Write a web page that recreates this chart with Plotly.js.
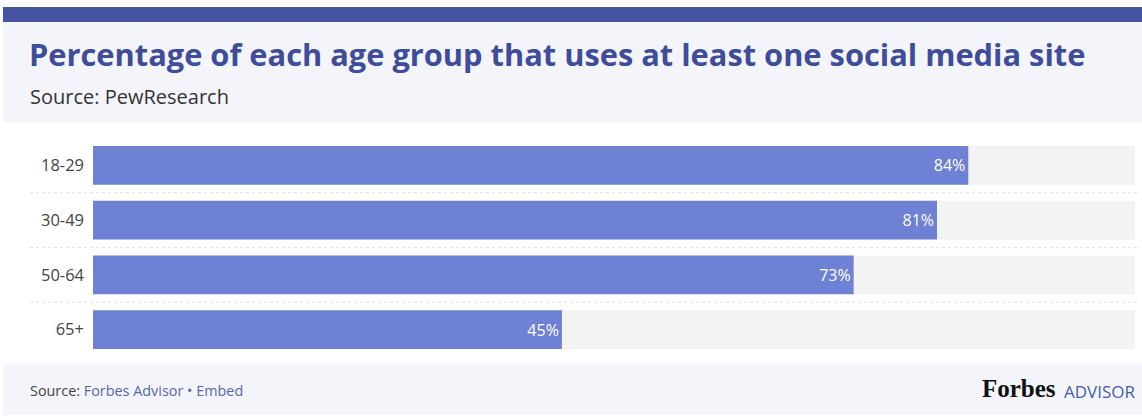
<!DOCTYPE html>
<html>
<head>
<meta charset="utf-8">
<script src="https://cdn.plot.ly/plotly-3.0.1.min.js"></script>
<style>html,body{margin:0;padding:0;background:#fff;}#chart{width:1142px;height:416px;}</style>
</head>
<body>
<div id="chart"></div>
<script>
const ageGroups = ["18-29", "30-49", "50-64", "65+"];
const shareUsingSocial = [84, 81, 73, 45];
const valueLabels = ["84%", "81%", "73%", "45%"];
const trackMax = [100, 100, 100, 100];
const separatorsAt = [0.5, 1.5, 2.5];

const W = 1142, H = 416;
const mL = 93, mR = 7.3, mT = 137.5, mB = 58.5;
const pw = W - mL - mR, ph = H - mT - mB;
const px = x => (x - mL) / pw;          // pixel -> paper x
const py = y => (H - mB - y) / ph;      // pixel -> paper y

const shapes = [
  {type:'rect', xref:'paper', yref:'paper', x0:px(3), x1:px(1142), y0:py(122), y1:py(21), fillcolor:'#f3f5fa', line:{width:0}, layer:'below'},
  {type:'rect', xref:'paper', yref:'paper', x0:px(3), x1:px(1142), y0:py(21), y1:py(6), fillcolor:'#4454a0', line:{width:0}, layer:'below'},
  {type:'rect', xref:'paper', yref:'paper', x0:px(3), x1:px(1142), y0:py(416), y1:py(364), fillcolor:'#f3f5fa', line:{width:0}, layer:'below'}
];
separatorsAt.forEach(s => shapes.push({
  type:'line', xref:'paper', yref:'y', x0:px(30), x1:px(1140), y0:s, y1:s,
  line:{color:'#e0e0e0', width:1, dash:'dot'}, layer:'below'
}));

const traces = [
  {type:'bar', orientation:'h', y:ageGroups, x:trackMax, marker:{color:'#f3f3f3'}, hoverinfo:'skip', showlegend:false},
  {type:'bar', orientation:'h', y:ageGroups, x:shareUsingSocial, text:valueLabels,
   textposition:'inside', insidetextanchor:'end', textangle:0,
   textfont:{family:'Open Sans, sans-serif', size:16, color:'#ffffff'},
   marker:{color:'#6e81d4'}, hoverinfo:'skip', showlegend:false}
];

const layout = {
  width: W, height: H,
  margin:{l:mL, r:mR, t:mT, b:mB, pad:0},
  paper_bgcolor:'#ffffff', plot_bgcolor:'#ffffff',
  barmode:'overlay', bargap:0.29,
  title:{text:'Percentage of each age group that uses at least one social media site',
         xref:'container', yref:'container', x:29/W, xanchor:'left', y:1-55/H, yanchor:'middle',
         font:{family:'Open Sans, sans-serif', size:30.8, color:'#3f4c9c', weight:700}},
  xaxis:{range:[0,100], visible:false, fixedrange:true},
  yaxis:{type:'category', autorange:'reversed', showgrid:false, zeroline:false, showline:false,
         ticks:'', ticklabelstandoff:8,
         tickfont:{family:'Open Sans, sans-serif', size:16.5, color:'#444444'}, fixedrange:true},
  shapes: shapes,
  annotations:[
    {text:'Source: PewResearch', xref:'paper', yref:'paper', x:px(28), y:py(96), xanchor:'left', yanchor:'middle',
     showarrow:false, font:{family:'Open Sans, sans-serif', size:20, color:'#333333'}},
    {text:'Source: <span style="color:#5a66aa">Forbes Advisor • Embed</span>', xref:'paper', yref:'paper',
     x:px(28), y:py(391), xanchor:'left', yanchor:'middle', showarrow:false,
     font:{family:'Open Sans, sans-serif', size:14.4, color:'#444444'}},
    {text:'<b>Forbes</b>', xref:'paper', yref:'paper', x:px(1058), y:py(389), xanchor:'right', yanchor:'middle',
     showarrow:false, font:{family:'Liberation Serif, DejaVu Serif, serif', size:25, color:'#111111'}},
    {text:'ADVISOR', xref:'paper', yref:'paper', x:px(1062), y:py(392), xanchor:'left', yanchor:'middle',
     showarrow:false, font:{family:'Open Sans, sans-serif', size:17, color:'#4a5ba5'}}
  ]
};

Plotly.newPlot('chart', traces, layout, {displayModeBar:false, staticPlot:true});
</script>
</body>
</html>
